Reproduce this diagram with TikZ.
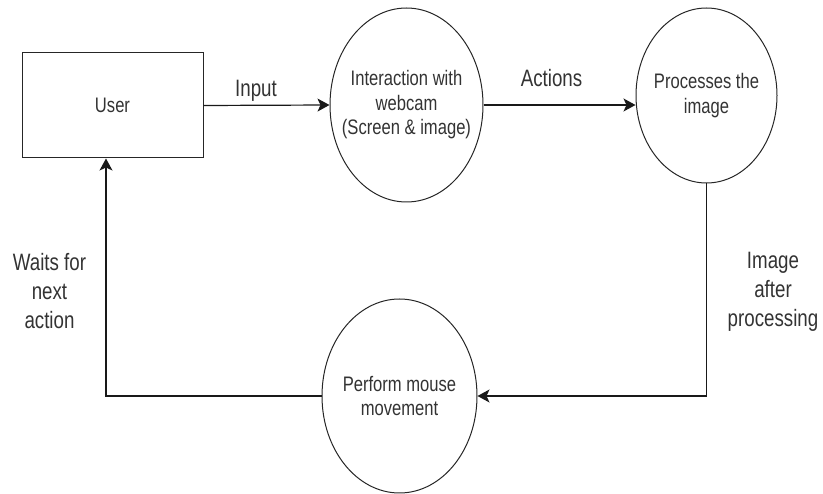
\documentclass[tikz,border=0pt]{standalone}
\usepackage{fontspec}
\setmainfont{Liberation Sans}[FakeStretch=0.79]
\usetikzlibrary{shapes.geometric,arrows.meta}

\begin{document}
\begin{tikzpicture}[x=1pt,y=-1pt,
    box/.style={draw=black!85,line width=1pt,minimum width=181pt,minimum height=105pt,inner sep=0pt,text=black!80,font=\fontsize{21}{24.5}\selectfont},
    bubble/.style={ellipse,draw=black!85,line width=1pt,inner xsep=-12pt,inner ysep=0pt,align=center,text=black!80,font=\fontsize{21}{24.5}\selectfont},
    flow/.style={draw=black!90,line width=1.2pt,-{Stealth[length=12pt,width=13pt,inset=3pt]}},
    lbl/.style={align=center,text=black!80,font=\fontsize{23.7}{29}\selectfont}]
\useasboundingbox (0,0) rectangle (823,494);

\node[box] (user) at (112.5,105.5) {User};
\node[bubble,minimum width=153pt,minimum height=194pt] (cam) at (406.5,105) {Interaction with\\webcam\\(Screen \& image)};
\node[bubble,minimum width=141pt,minimum height=175pt] (proc) at (706.5,95.5) {Processes the\\image};
\node[bubble,minimum width=155pt,minimum height=194pt] (mouse) at (399.5,396) {Perform mouse\\movement};

\coordinate (turn) at (106,396);

\draw[flow] (user.east) -- (cam.west);
\draw[flow] (cam.east) -- (cam.east -| proc.west);
\draw[flow] (proc.south) |- (mouse.east);
\draw[flow] (mouse.west) -- (turn) -- (turn |- user.south);

\node[lbl,anchor=base] (input) at (256,97) {Input};
\node[lbl,anchor=base] (actions) at (551.5,87) {Actions};
\node[lbl] (waits) at (49.5,291) {Waits for\\next\\action};
\node[lbl] (imgout) at (773,292) {Image\\after\\processing};
\end{tikzpicture}
\end{document}
